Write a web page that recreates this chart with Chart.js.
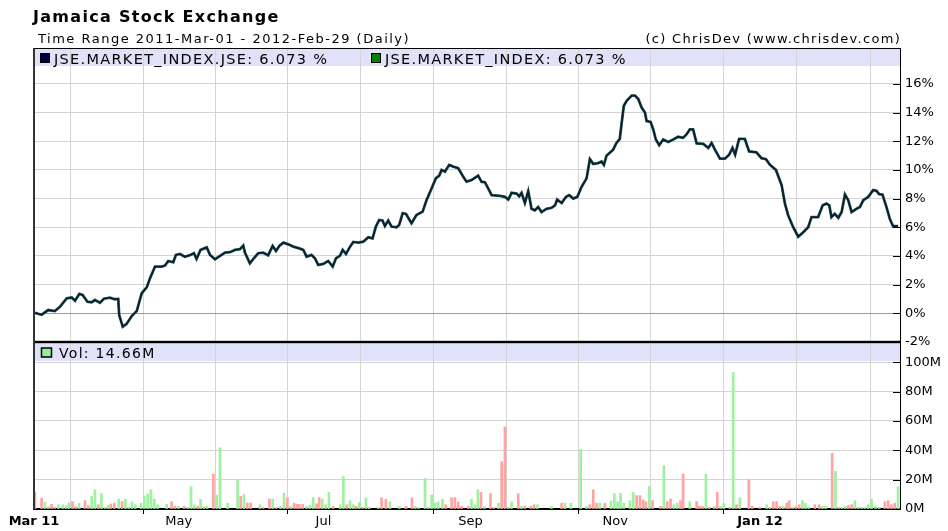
<!DOCTYPE html>
<html>
<head>
<meta charset="utf-8">
<script src="https://cdn.jsdelivr.net/npm/chart.js@4.4.1/dist/chart.umd.min.js"></script>
<style>
  html, body { margin: 0; padding: 0; background: #fff; }
  #wrap { position: relative; width: 948px; height: 531px; overflow: hidden; font-family: "DejaVu Sans", sans-serif; }
  #chart { position: absolute; left: 0; top: 0; }
  .txt { position: absolute; white-space: nowrap; color: #000; line-height: 1; }
  #title { left: 33px; top: 9px; font-size: 16px; font-weight: bold; letter-spacing: 1.3px; }
  #range { left: 38px; top: 32px; font-size: 13px; letter-spacing: 1.5px; }
  #copy { right: 47px; top: 32px; font-size: 13px; letter-spacing: 1.3px; }
</style>
</head>
<body>
<div id="wrap">
  <canvas id="chart" width="948" height="531"></canvas>
  <div class="txt" id="title">Jamaica Stock Exchange</div>
  <div class="txt" id="range">Time Range 2011-Mar-01 - 2012-Feb-29 (Daily)</div>
  <div class="txt" id="copy">(c) ChrisDev (www.chrisdev.com)</div>
</div>
<script>
// days counted from 2011-Mar-01
const monthDays = [0, 31, 61, 92, 122, 153, 184, 214, 245, 275, 306, 337];
const monthLabels = ["Mar 11", "", "May", "", "Jul", "", "Sep", "", "Nov", "", "Jan 12", ""];
const pctTicks = [-2, 0, 2, 4, 6, 8, 10, 12, 14, 16];
const volTicks = [0, 20, 40, 60, 80, 100];

const seriesLabels = ["JSE.MARKET_INDEX.JSE", "JSE.MARKET_INDEX"];
const lastPct = 6.073;
const lastVol = 14.66;

// price change since start, %
const priceDays = [0, 3.2, 6.0, 8.8, 11.0, 13.8, 15.9, 17.3, 19.1, 20.5, 22.5, 24.3, 25.7, 27.8, 29.5, 32.0, 34.1, 35.5, 35.9, 37.4,
  39.0, 41.2, 43.3, 45.4, 47.5, 48.9, 51.0, 53.8, 55.2, 56.6, 58.7, 59.8, 61.5, 63.6, 65.7, 67.4, 68.5, 70.2, 72.8, 74.2,
  76.3, 78.4, 80.5, 82.6, 84.7, 86.8, 88.2, 88.9, 91.0, 92.7, 94.5, 96.6, 98.7, 100.6, 102.0, 103.4, 105.1, 107.2, 109.3, 111.8,
  113.5, 114.9, 117.0, 118.4, 119.8, 121.9, 124.0, 125.9, 127.3, 129.0, 130.1, 131.5, 133.2, 134.6, 136.7, 138.8, 140.9, 142.7, 144.1, 145.5,
  146.9, 147.9, 149.3, 150.7, 152.8, 153.9, 155.4, 156.8, 159.1, 161.2, 163.8, 165.5, 167.6, 169.4, 170.8, 171.8, 173.2, 175.0, 176.7, 178.8,
  180.9, 182.3, 184.4, 187.2, 188.6, 190.1, 192.9, 196.4, 198.5, 199.9, 201.3, 203.4, 204.5, 205.5, 206.9, 208.3, 209.7, 211.1, 212.5, 213.9,
  216.0, 218.2, 219.6, 220.5, 222.4, 224.2, 225.6, 227.3, 229.0, 230.8, 232.9, 234.3, 235.7, 237.8, 239.2, 240.2, 241.3, 244.1, 245.5, 246.9,
  247.7, 248.6, 249.8, 251.9, 253.3, 254.7, 256.1, 257.5, 258.2, 259.9, 261.0, 262.1, 263.5, 265.2, 267.3, 269.4, 271.5, 273.6, 275.0, 276.4,
  277.8, 279.3, 282.1, 284.2, 285.6, 287.0, 289.1, 291.2, 293.0, 294.4, 295.5, 297.2, 299.6, 301.4, 304.5, 306.6, 308.5, 310.2, 312.7, 315.1,
  316.5, 317.9, 320.0, 322.1, 324.2, 326.3, 327.7, 330.5, 332.4, 334.0, 335.2, 336.1, 337.5, 339.0, 340.4, 341.8, 343.2, 344.6, 346.7, 348.1,
  349.5, 351.6, 353.7, 355.1, 356.2, 357.6, 359.3, 360.7, 362.1, 364.2];
const pricePct = [0.05, -0.1, 0.23, 0.16, 0.47, 1.05, 1.1, 0.88, 1.35, 1.28, 0.81, 0.77, 0.93, 0.74, 1.02, 1.09, 0.98, 1.0, -0.12, -0.93,
  -0.74, -0.19, 0.16, 1.4, 1.81, 2.44, 3.26, 3.26, 3.33, 3.65, 3.56, 4.07, 4.14, 3.95, 4.05, 4.19, 3.79, 4.42, 4.6, 4.07,
  3.77, 4.0, 4.23, 4.26, 4.42, 4.47, 4.72, 4.23, 3.49, 3.84, 4.19, 4.23, 4.05, 4.7, 4.35, 4.7, 4.93, 4.81, 4.65, 4.53,
  4.42, 3.95, 4.07, 3.84, 3.37, 3.44, 3.65, 3.26, 3.84, 4.02, 4.42, 4.14, 4.65, 4.98, 4.93, 5.0, 5.3, 5.23, 6.05, 6.51,
  6.47, 6.09, 6.47, 6.05, 6.0, 6.16, 6.98, 6.93, 6.28, 6.86, 7.09, 7.91, 8.72, 9.42, 9.6, 10.0, 9.88, 10.35, 10.23, 10.12,
  9.53, 9.18, 9.29, 9.6, 9.18, 9.13, 8.24, 8.19, 8.12, 7.93, 8.4, 8.35, 8.16, 8.4, 7.69, 8.52, 7.29, 7.18, 7.41, 7.06,
  7.29, 7.36, 7.53, 7.93, 7.69, 8.12, 8.24, 8.0, 8.12, 8.82, 9.41, 10.75, 10.42, 10.47, 10.59, 10.35, 10.99, 11.41, 11.88, 12.16,
  13.29, 14.47, 14.82, 15.18, 15.18, 14.94, 14.35, 14.0, 13.41, 13.34, 12.82, 12.12, 11.72, 12.12, 11.95, 12.12, 12.31, 12.24, 12.47, 12.82,
  12.82, 11.84, 11.81, 11.53, 11.88, 11.41, 10.78, 10.78, 11.06, 11.53, 11.06, 12.16, 12.16, 11.29, 11.22, 10.82, 10.75, 10.35, 10.0, 8.94,
  7.65, 6.82, 6.0, 5.34, 5.65, 6.0, 6.71, 6.71, 7.53, 7.65, 7.53, 6.71, 6.94, 6.66, 7.06, 8.28, 7.88, 7.06, 7.29, 7.41,
  7.88, 8.12, 8.59, 8.54, 8.31, 8.28, 7.41, 6.59, 6.07, 6.073];

// volume, millions; 1 = up day (green), 0 = down day (red)
const volDays = [0.4, 3.2, 4.6, 6.0, 7.4, 8.8, 10.3, 12.1, 13.5, 14.7, 16.2, 17.6, 19.0, 21.5, 22.9, 24.3, 25.7, 27.1, 28.4, 29.9,
  31.3, 32.4, 33.9, 35.7, 37.1, 38.5, 39.9, 41.3, 42.7, 45.1, 46.5, 47.9, 49.3, 50.7, 52.1, 55.9, 58.0, 59.4, 60.8, 63.3,
  64.8, 66.2, 67.6, 69.0, 70.2, 71.6, 73.0, 75.6, 77.0, 78.4, 81.6, 85.8, 87.1, 88.5, 89.9, 91.3, 95.2, 96.6, 99.2, 100.6,
  102.0, 103.9, 105.4, 106.8, 108.2, 109.6, 110.7, 111.8, 113.2, 114.9, 116.3, 117.7, 119.1, 120.2,
  121.5, 122.9, 124.3, 126.1, 129.0, 130.4, 131.8, 133.2, 134.6, 135.7, 137.1, 138.5, 139.9, 141.3, 145.1, 146.5, 148.3, 150.0, 154.0, 156.8,
  159.3, 160.7, 162.1, 164.8, 166.2, 167.6, 169.0, 170.3, 172.2, 173.6, 176.0, 177.4, 178.8, 180.2, 183.0, 184.4, 185.8, 187.1, 188.4, 189.8,
  192.4, 193.8, 195.8, 197.1, 198.5, 199.9, 201.3, 204.1, 205.5, 206.9, 209.4, 210.8, 212.2, 218.1, 222.4, 223.8, 226.3, 230.4, 232.9, 234.3,
  235.7, 237.1, 238.5, 240.6, 243.2, 244.6, 246.0,
  247.2, 248.6, 251.2, 252.6, 254.0, 255.4, 256.8, 257.9, 259.3, 260.7, 264.1, 265.5, 266.9, 268.3, 269.7, 271.1, 272.5, 273.6, 276.4, 279.3,
  280.4, 281.8, 283.2, 284.6, 286.7, 288.0, 289.4, 290.8, 293.3, 294.7, 296.1, 297.5, 301.3, 302.7, 305.9, 308.8, 310.2, 311.6, 313.0, 314.4,
  315.8, 317.2, 318.3, 319.7, 321.1, 322.5, 323.9, 325.2, 326.6, 329.1, 330.9, 332.3, 333.7, 336.4, 337.8, 339.2, 340.6, 342.0, 343.2, 344.6,
  346.0, 347.4, 348.8, 350.2, 351.6, 353.0, 354.7, 356.2, 358.6, 360.0, 361.4, 362.8, 364.2];
const volM = [11.3, 7.5, 4.5, 1.6, 3.2, 1.1, 2.9, 2.9, 2.3, 4.1, 5.0, 1.6, 3.9, 5.7, 2.3, 8.6, 13.2, 2.9, 10.4, 1.1,
  2.3, 3.4, 3.9, 6.8, 5.0, 6.6, 1.4, 4.8, 2.9, 3.9, 8.6, 10.2, 13.2, 6.8, 2.9, 3.2, 5.0, 1.8, 1.8, 1.8,
  1.1, 15.2, 2.9, 1.8, 6.6, 1.6, 1.8, 23.8, 9.5, 41.7, 3.9, 19.7, 8.6, 9.8, 4.1, 4.1, 2.9, 1.1, 6.8, 6.8,
  1.1, 1.8, 10.7, 7.7, 1.8, 3.9, 3.2, 3.2, 3.2, 1.8, 2.3, 7.7, 3.6, 7.7,
  6.8, 2.9, 11.3, 1.8, 2.9, 22.0, 2.9, 5.7, 2.9, 1.8, 4.5, 1.1, 7.5, 1.1, 1.1, 7.7, 6.6, 4.8, 1.8, 1.8,
  7.5, 1.8, 1.1, 20.9, 1.1, 9.5, 4.1, 4.8, 6.6, 2.9, 7.7, 7.7, 4.8, 1.8, 1.8, 6.8, 2.9, 13.2, 11.3, 1.8,
  10.4, 1.1, 3.9, 32.2, 56.0, 1.1, 4.8, 10.4, 1.8, 1.8, 1.8, 2.9, 2.9, 1.8, 3.9, 3.9, 3.9, 40.6, 1.8, 2.9,
  13.2, 3.9, 3.9, 3.9, 5.4, 10.4, 4.8,
  10.7, 3.9, 5.7, 11.3, 9.1, 9.1, 6.1, 5.0, 15.4, 5.7, 1.8, 29.5, 5.0, 6.8, 2.9, 3.9, 5.7, 23.8, 5.0, 5.0,
  1.8, 1.8, 23.8, 1.1, 1.8, 11.3, 1.8, 3.9, 1.1, 93.0, 2.9, 7.7, 20.0, 1.8, 1.1, 2.9, 1.1, 5.0, 5.0, 1.8,
  1.8, 3.9, 5.7, 1.1, 1.8, 2.9, 5.7, 3.9, 1.1, 2.9, 2.9, 1.8, 1.8, 37.9, 25.6, 1.1, 1.1, 1.8, 2.3, 2.9,
  5.7, 1.1, 1.1, 1.1, 2.9, 6.6, 1.8, 1.1, 5.0, 5.7, 2.9, 3.9, 15.2];
const volUp = [0, 0, 1, 1, 0, 0, 1, 1, 1, 1, 0, 0, 1, 0, 0, 1, 1, 0, 1, 1,
  1, 0, 0, 1, 0, 1, 1, 1, 1, 1, 1, 1, 1, 1, 1, 1, 0, 0, 1, 0,
  1, 1, 1, 0, 1, 1, 1, 0, 1, 1, 1, 1, 0, 1, 0, 0, 1, 0, 0, 1,
  0, 1, 1, 0, 1, 0, 0, 0, 0, 1, 1, 1, 0, 0,
  1, 1, 1, 0, 1, 1, 0, 1, 1, 0, 1, 0, 1, 1, 1, 0, 0, 1, 1, 0,
  0, 1, 1, 1, 1, 1, 1, 1, 1, 0, 0, 0, 0, 0, 0, 1, 1, 1, 0, 1,
  0, 0, 1, 0, 0, 1, 1, 0, 1, 0, 0, 0, 1, 1, 0, 1, 1, 1, 1, 0,
  0, 0, 1, 0, 1, 1, 1,
  1, 1, 1, 1, 0, 0, 0, 0, 1, 0, 0, 1, 0, 0, 1, 1, 0, 0, 1, 0,
  0, 0, 1, 0, 1, 0, 1, 1, 0, 1, 0, 1, 0, 0, 0, 1, 1, 0, 0, 0,
  1, 0, 0, 1, 0, 0, 1, 1, 1, 0, 0, 1, 1, 0, 1, 0, 1, 1, 0, 0,
  1, 1, 1, 1, 1, 1, 1, 1, 0, 0, 0, 0, 1];

const FONT = "DejaVu Sans";

const pricePoints = priceDays.map((d, i) => ({ x: d, y: pricePct[i] }));
const volPoints = volDays.map((d, i) => ({ x: d, y: volM[i] }));

const panelPlugin = {
  id: "panels",
  beforeDraw(chart) {
    const { ctx, chartArea } = chart;
    const yv = chart.scales.yv;
    ctx.save();
    ctx.fillStyle = "#e1e1fa";
    ctx.fillRect(chartArea.left, chartArea.top, chartArea.right - chartArea.left, 18);
    ctx.fillRect(chartArea.left, yv.top + 1, chartArea.right - chartArea.left, 18);
    ctx.restore();
  },
  afterDraw(chart) {
    const { ctx, chartArea } = chart;
    const y = chart.scales.y;
    const yv = chart.scales.yv;
    const w = chartArea.right - chartArea.left;
    ctx.save();
    // frame
    ctx.fillStyle = "#000";
    ctx.fillRect(chartArea.left, chartArea.top, w, 1);
    ctx.fillRect(chartArea.left, y.bottom - 1.2, w, 2.4);
    ctx.fillStyle = "#333";
    ctx.fillRect(chartArea.left - 1, chartArea.top, 2, chartArea.bottom - chartArea.top);

    // inner tick marks on the right axis
    ctx.strokeStyle = "#000";
    ctx.lineWidth = 1;
    [y, yv].forEach(s => {
      s.ticks.forEach(t => {
        if (s === y && t.value === pctTicks[0]) return;
        if (s === yv && t.value === volTicks[0]) return;
        const py = Math.round(s.getPixelForValue(t.value)) + 0.5;
        ctx.beginPath();
        ctx.moveTo(chartArea.right - 7, py);
        ctx.lineTo(chartArea.right, py);
        ctx.stroke();
      });
    });

    // legends
    ctx.letterSpacing = "1.3px";
    ctx.font = "14.5px '" + FONT + "'";
    ctx.textBaseline = "alphabetic";
    ctx.textAlign = "left";
    const items = [
      { x: 40.5, color: "#000040", text: seriesLabels[0] + ": " + lastPct.toFixed(3) + " %" },
      { x: 371.5, color: "#008000", text: seriesLabels[1] + ": " + lastPct.toFixed(3) + " %" }
    ];
    items.forEach(it => {
      ctx.fillStyle = it.color;
      ctx.fillRect(it.x, 53.5, 9, 9);
      ctx.strokeStyle = "#000";
      ctx.strokeRect(it.x, 53.5, 9, 9);
      ctx.fillStyle = "#000";
      ctx.fillText(it.text, it.x + 13.5, 64);
    });
    ctx.fillStyle = "#99ee99";
    ctx.fillRect(41.5, yv.top + 6, 10, 9);
    ctx.strokeStyle = "#000";
    ctx.lineWidth = 1.5;
    ctx.strokeRect(41.5, yv.top + 6, 10, 9);
    ctx.fillStyle = "#000";
    ctx.font = "14px '" + FONT + "'";
    ctx.fillText("Vol: " + lastVol.toFixed(2) + "M", 59, yv.top + 16);
    ctx.restore();
  }
};

new Chart(document.getElementById("chart"), {
  type: "line",
  data: {
    datasets: [
      {
        label: seriesLabels[0],
        data: pricePoints,
        yAxisID: "y",
        borderColor: "#0d1d38",
        borderWidth: 1.8,
        pointRadius: 0,
        tension: 0
      },
      {
        label: seriesLabels[1],
        data: pricePoints,
        yAxisID: "y",
        borderColor: "#2e6b55",
        borderWidth: 2.8,
        pointRadius: 0,
        tension: 0
      },
      {
        type: "bar",
        label: "Vol",
        data: volPoints,
        yAxisID: "yv",
        backgroundColor: c => volUp[c.dataIndex] ? "#9ff09f" : "#ffa3a3",
        borderWidth: 0,
        barThickness: 2,
        grouped: false
      }
    ]
  },
  options: {
    responsive: false,
    animation: false,
    layout: { padding: { top: 48, left: 34, right: 0, bottom: 0 } },
    plugins: { legend: { display: false }, tooltip: { enabled: false } },
    scales: {
      x: {
        type: "linear",
        min: 0,
        max: 365,
        offset: false,
        afterBuildTicks: s => { s.ticks = monthDays.map(v => ({ value: v })); },
        afterFit: s => { s.height = 22; },
        ticks: {
          autoSkip: false,
          maxRotation: 0,
          padding: 0,
          color: "#000",
          callback: (v, i) => monthLabels[i],
          font: c => ({ family: FONT, size: 13, weight: (monthLabels[c.index] || "").indexOf(" ") > 0 ? "bold" : "normal" })
        },
        grid: {
          color: "#d4d4d4",
          tickLength: 5,
          tickColor: c => monthLabels[c.index] ? "#000" : "rgba(0,0,0,0)"
        },
        border: { color: "#000", width: 2 }
      },
      y: {
        position: "right",
        stack: "panels",
        stackWeight: 294,
        min: -2,
        max: 18.5,
        afterBuildTicks: s => { s.ticks = pctTicks.map(v => ({ value: v })); },
        afterFit: s => { s.width = 48; },
        ticks: { autoSkip: false, padding: 5, color: "#000", font: { family: FONT, size: 13 }, callback: v => v + "%" },
        grid: { color: c => (c.tick && c.tick.value === 0) ? "#9a9a9a" : "#d4d4d4", drawTicks: false },
        border: { color: "#000", width: 1 }
      },
      yv: {
        position: "right",
        stack: "panels",
        stackWeight: 167,
        min: 0,
        max: 113.8,
        afterBuildTicks: s => { s.ticks = volTicks.map(v => ({ value: v })); },
        afterFit: s => { s.width = 48; },
        ticks: { autoSkip: false, padding: 5, color: "#000", font: { family: FONT, size: 13 }, callback: v => v + "M" },
        grid: { color: "#d4d4d4", drawTicks: false },
        border: { color: "#000", width: 1 }
      }
    }
  },
  plugins: [panelPlugin]
});
</script>
</body>
</html>
